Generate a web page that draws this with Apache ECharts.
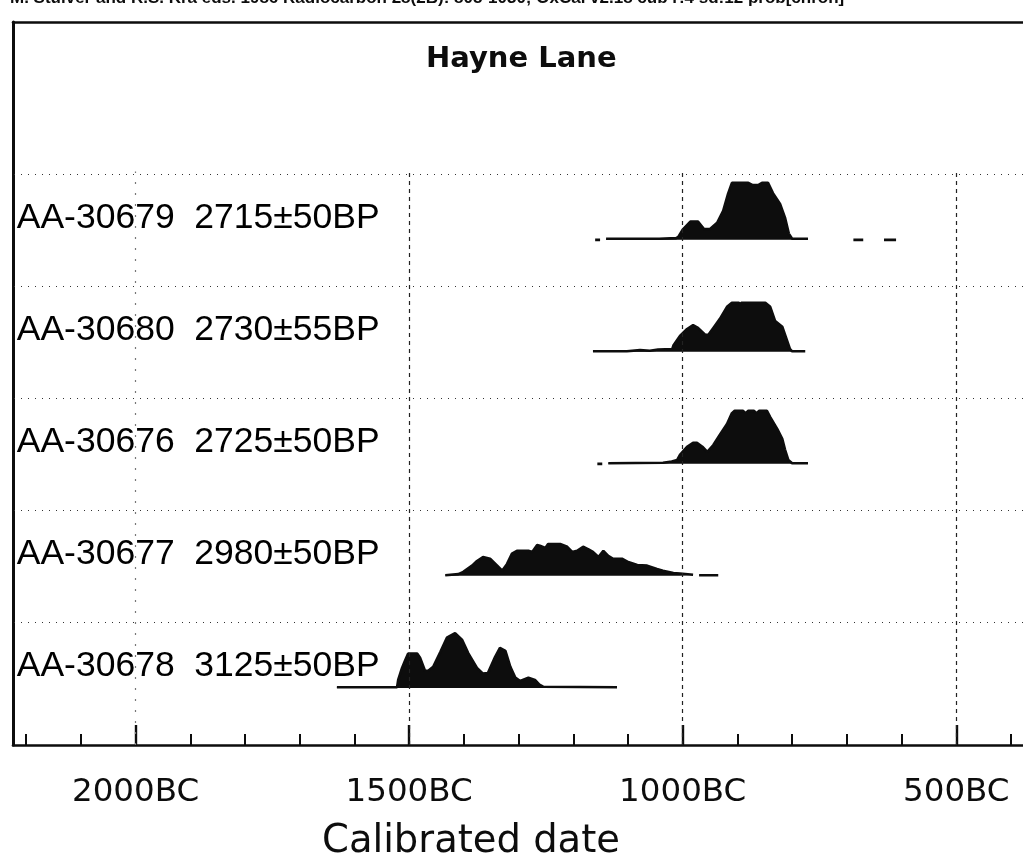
<!DOCTYPE html>
<html><head><meta charset="utf-8">
<script src="https://cdn.jsdelivr.net/npm/echarts@6/dist/echarts.min.js"></script>
<style>html,body{margin:0;padding:0;background:#fff;overflow:hidden}#c{width:1023px;height:859px}</style>
</head><body><div id="c"></div>
<script>
// ---------- text ----------
const headerText = "M. Stuiver and R.S. Kra eds. 1986 Radiocarbon 28(2B): 805-1030; OxCal v2.18 cub r:4 sd:12 prob[chron]";
const chartTitle = "Hayne Lane";
const xAxisTitle = "Calibrated date";

// sample labels, top to bottom
const sampleLabels = [
  "AA-30679  2715\u00b150BP",
  "AA-30680  2730\u00b155BP",
  "AA-30676  2725\u00b150BP",
  "AA-30677  2980\u00b150BP",
  "AA-30678  3125\u00b150BP"
];

// ---------- axis ticks (years BC) ----------
const minorTickYears = [2200, 2100, 2000, 1900, 1800, 1700, 1600, 1500, 1400, 1300, 1200, 1100, 1000, 900, 800, 700, 600, 500, 400];
const majorTickYears = [2000, 1500, 1000, 500];

// ---------- distributions: [year BC, relative probability]; null = gap ----------
const distAA30679 = [[1160,0],[1151,0],null,[1140,0.02],[1043,0.02],[1040,0.03],[1012,0.03],[1008,0.05],[1000,0.18],[986,0.32],[972,0.32],[961,0.19],[950,0.19],[937,0.30],[926,0.51],[917,0.81],[910,1.0],[880,1.0],[872,0.96],[862,0.96],[855,1.0],[844,1.0],[835,0.82],[822,0.63],[813,0.39],[806,0.11],[800,0.02],[771,0.02],null,[688,0],[670,0],null,[632,0],[610,0]];
const distAA30680 = [[1164,0.01],[1102,0.01],[1100,0.03],[1078,0.03],[1060,0.02],[1045,0.04],[1019,0.05],[1017,0.11],[1005,0.28],[992,0.40],[981,0.47],[972,0.42],[959,0.30],[953,0.30],[944,0.42],[932,0.58],[919,0.79],[910,0.86],[897,0.86],[895,0.82],[893,0.86],[849,0.86],[840,0.79],[831,0.54],[818,0.44],[809,0.19],[804,0.05],[800,0.01],[776,0.01]];
const distAA30676 = [[1156,0],[1147,0],null,[1136,0.01],[1036,0.02],[1020,0.04],[1010,0.07],[1005,0.16],[992,0.30],[981,0.37],[974,0.37],[964,0.30],[955,0.21],[944,0.33],[932,0.51],[919,0.70],[910,0.89],[905,0.93],[890,0.93],[885,0.89],[880,0.93],[870,0.93],[865,0.89],[860,0.93],[846,0.93],[840,0.82],[827,0.61],[818,0.44],[813,0.25],[807,0.07],[800,0.01],[771,0.01]];
const distAA30677 = [[1434,0.01],[1410,0.03],[1401,0.07],[1385,0.18],[1376,0.26],[1365,0.33],[1352,0.30],[1339,0.18],[1330,0.09],[1321,0.21],[1312,0.39],[1303,0.44],[1282,0.44],[1275,0.42],[1266,0.54],[1261,0.53],[1251,0.49],[1246,0.56],[1224,0.56],[1211,0.51],[1202,0.42],[1193,0.44],[1182,0.51],[1173,0.47],[1164,0.42],[1154,0.33],[1145,0.44],[1136,0.35],[1127,0.30],[1111,0.30],[1101,0.25],[1083,0.19],[1065,0.18],[1047,0.12],[1036,0.09],[1017,0.05],[1005,0.04],[981,0.02],null,[970,0.01],[935,0.01]];
const distAA30678 = [[1632,0.01],[1522,0.01],[1520,0.14],[1513,0.35],[1507,0.49],[1502,0.60],[1485,0.60],[1480,0.53],[1471,0.30],[1465,0.30],[1456,0.37],[1443,0.63],[1431,0.88],[1416,0.96],[1403,0.84],[1392,0.61],[1376,0.35],[1365,0.25],[1356,0.26],[1343,0.54],[1334,0.70],[1324,0.65],[1315,0.37],[1306,0.18],[1297,0.12],[1282,0.18],[1270,0.14],[1261,0.05],[1255,0.02],[1120,0.01]];

// top to bottom, matching sampleLabels
const distributions = [distAA30679, distAA30680, distAA30676, distAA30677, distAA30678];

// ---------- layout constants ----------
const ROW_HEIGHT = 0.509;   // plotted height of probability 1.0 (in row units)
const SEP_OFFSET = 0.59;    // row separator above each baseline
const LABEL_OFFSET = 0.19;
const X_MIN = 378, X_MAX = 2224, Y_MIN = -0.51, Y_MAX = 5.945;
const INK = '#0d0d0d';

const nRows = distributions.length;
const rowBase = i => nRows - 1 - i;   // top row gets highest baseline

const series = distributions.map((d, i) => ({
  type: 'line',
  name: sampleLabels[i],
  symbol: 'none',
  connectNulls: false,
  animation: false,
  lineStyle: { color: INK, width: 2.6 },
  itemStyle: { color: INK },
  areaStyle: { color: INK, opacity: 1, origin: rowBase(i) },
  data: d.map(p => p === null ? ['-', '-'] : [p[0], rowBase(i) + p[1] * ROW_HEIGHT]),
  z: 3
}));

// grid lines (row separators & dashed verticals) + labels
const sepLines = distributions.map((d, i) => ({ yAxis: rowBase(i) + SEP_OFFSET }));
const vertLines = majorTickYears.map(y => [
  { coord: [y, Y_MIN], lineStyle: y === 2000 ? { color: '#777', type: [2, 9] } : undefined },
  { coord: [y, rowBase(0) + SEP_OFFSET + 0.02] }
]);

series.push({
  type: 'scatter',
  symbolSize: 0,
  animation: false,
  silent: true,
  itemStyle: { opacity: 1, color: '#000' },
  data: sampleLabels.map((name, i) => ({ name, value: [2219, rowBase(i) + LABEL_OFFSET] })),
  label: {
    show: true, position: 'right', distance: 1, formatter: '{b}',
    fontFamily: 'Liberation Sans', fontSize: 35.5, color: '#000', opacity: 1
  },
  markLine: {
    silent: true, symbol: 'none', animation: false, label: { show: false },
    lineStyle: { color: '#333', width: 1, type: [1, 6], opacity: 1 },
    data: sepLines
  },
  z: 4
});
series.push({
  type: 'line',
  data: [],
  silent: true,
  markLine: {
    silent: true, symbol: 'none', animation: false, label: { show: false },
    lineStyle: { color: '#222', width: 1.2, type: [4, 4] },
    data: vertLines
  }
});

const chart = echarts.init(document.getElementById('c'), null, { renderer: 'canvas' });
chart.setOption({
  backgroundColor: '#fff',
  animation: false,
  title: [
    { text: headerText, left: 10, top: -10, padding: 0,
      textStyle: { fontFamily: 'Liberation Sans Narrow, Liberation Sans', fontWeight: 'bold', fontSize: 17, color: INK } },
    { text: chartTitle, left: 426, top: 45, padding: 0,
      textStyle: { fontFamily: 'DejaVu Sans', fontWeight: 'bold', fontSize: 29, color: INK } },
    { text: xAxisTitle, left: 322, top: 822, padding: 0,
      textStyle: { fontFamily: 'DejaVu Sans', fontWeight: 'normal', fontSize: 38.5, color: INK } }
  ],
  grid: { left: 13, right: 0, top: 22, bottom: 114, show: false },
  xAxis: [
    { type: 'value', min: X_MIN, max: X_MAX, inverse: true, position: 'bottom',
      axisLine: { show: true, onZero: false, lineStyle: { color: INK, width: 2.6 } },
      axisTick: { show: true, inside: true, length: 11, customValues: minorTickYears, lineStyle: { color: INK, width: 2 } },
      axisLabel: { show: true, customValues: majorTickYears, formatter: v => v + 'BC', margin: 31,
        fontFamily: 'DejaVu Sans', fontSize: 32.5, color: INK },
      splitLine: { show: false } },
    { type: 'value', min: X_MIN, max: X_MAX, inverse: true, position: 'bottom',
      axisLine: { show: false, onZero: false },
      axisTick: { show: true, inside: true, length: 20, customValues: majorTickYears, lineStyle: { color: INK, width: 2.4 } },
      axisLabel: { show: false },
      splitLine: { show: false } },
    { type: 'value', min: X_MIN, max: X_MAX, inverse: true, position: 'top',
      axisLine: { show: true, onZero: false, lineStyle: { color: INK, width: 2.6 } },
      axisTick: { show: false }, axisLabel: { show: false }, splitLine: { show: false } }
  ],
  yAxis: { type: 'value', min: Y_MIN, max: Y_MAX, position: 'left',
    axisLine: { show: true, onZero: false, lineStyle: { color: INK, width: 3 } },
    axisTick: { show: false }, axisLabel: { show: false }, splitLine: { show: false } },
  series
});
</script>
</body></html>
